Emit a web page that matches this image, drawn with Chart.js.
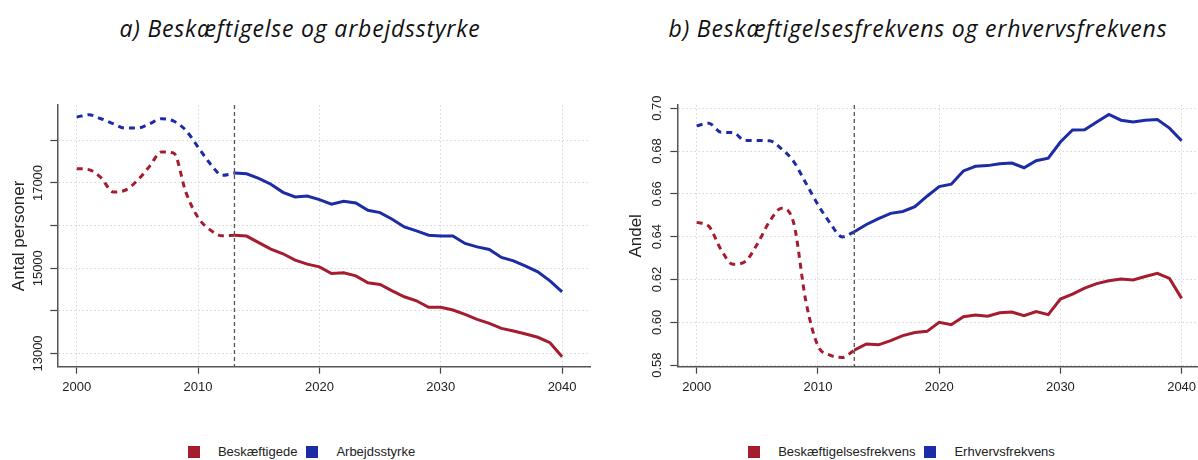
<!DOCTYPE html>
<html>
<head>
<meta charset="utf-8">
<script src="https://cdn.jsdelivr.net/npm/chart.js@4.4.1/dist/chart.umd.min.js"></script>
<style>
  html, body { margin: 0; padding: 0; background: #fff; }
  body { width: 1198px; height: 460px; overflow: hidden; position: relative; }
  .title { position: absolute; top: 15px; width: 600px; text-align: center; line-height: 26px; letter-spacing: 0.8px;
           font-family: "Open Sans", sans-serif; font-style: italic; font-size: 23px; color: #111; }
  canvas { position: absolute; top: 60px; }
  .legend { position: absolute; top: 445px; display: flex; justify-content: center; align-items: center;
            font-family: "Liberation Sans", Arial, sans-serif; font-size: 13px; color: #222; line-height: 14px; }
  .legend .box { width: 12px; height: 12px; margin-right: 18px; }
  .legend .txt { margin-right: 9px; }
</style>
</head>
<body>
<div class="title" style="left:0">a) Beskæftigelse og arbejdsstyrke</div>
<div class="title" style="left:618px">b) Beskæftigelsesfrekvens og erhvervsfrekvens</div>
<canvas id="chartA" width="600" height="360" style="left:0"></canvas>
<canvas id="chartB" width="620" height="360" style="left:600px"></canvas>
<div class="legend" id="legendA" style="left:0; width:612px"></div>
<div class="legend" id="legendB" style="left:600px; width:612px"></div>
<script>
const histYears = [2000, 2001, 2002, 2003, 2004, 2005, 2006, 2007, 2008, 2009, 2010, 2011, 2012, 2013];
const projYears = [2013, 2014, 2015, 2016, 2017, 2018, 2019, 2020, 2021, 2022, 2023, 2024, 2025, 2026,
                   2027, 2028, 2029, 2030, 2031, 2032, 2033, 2034, 2035, 2036, 2037, 2038, 2039, 2040];
const splitYear = 2013;

// a) antal personer
const employedHist = [17337, 17313, 17126, 16790, 16830, 17060, 17390, 17730, 17700, 16780, 16190, 15900, 15760, 15775];
const employedProj = [15775, 15755, 15600, 15450, 15340, 15190, 15096, 15033, 14878, 14892, 14822, 14658, 14620, 14471,
                      14330, 14237, 14082, 14082, 14019, 13918, 13801, 13707, 13590, 13527, 13457, 13380, 13253, 12925];
const laborHist = [18546, 18602, 18508, 18391, 18288, 18288, 18391, 18508, 18452, 18234, 17843, 17454, 17180, 17234];
const laborProj = [17234, 17215, 17110, 16970, 16782, 16672, 16696, 16611, 16501, 16571, 16532, 16361, 16306, 16150,
                   15970, 15876, 15775, 15759, 15759, 15581, 15501, 15440, 15253, 15173, 15049, 14916, 14705, 14447];

// b) andel
const empRateHist = [0.6467, 0.6449, 0.6340, 0.6271, 0.6284, 0.6366, 0.6470, 0.6533, 0.6464, 0.6100, 0.5891, 0.5847, 0.5836, 0.5870];
const empRateProj = [0.5870, 0.5899, 0.5895, 0.5915, 0.5938, 0.5953, 0.5958, 0.6000, 0.5989, 0.6026, 0.6034, 0.6029, 0.6045, 0.6048,
                     0.6031, 0.6050, 0.6036, 0.6109, 0.6132, 0.6160, 0.6181, 0.6194, 0.6202, 0.6198, 0.6214, 0.6229, 0.6205, 0.6112];
const partRateHist = [0.6918, 0.6930, 0.6888, 0.6886, 0.6849, 0.6849, 0.6848, 0.6810, 0.6751, 0.6651, 0.6550, 0.6464, 0.6399, 0.6423];
const partRateProj = [0.6423, 0.6457, 0.6484, 0.6509, 0.6518, 0.6540, 0.6589, 0.6634, 0.6645, 0.6707, 0.6729, 0.6732, 0.6741, 0.6744,
                      0.6722, 0.6755, 0.6767, 0.6842, 0.6898, 0.6899, 0.6936, 0.6971, 0.6944, 0.6936, 0.6944, 0.6947, 0.6907, 0.6848];

const labelsA = ["Beskæftigede", "Arbejdsstyrke"];
const labelsB = ["Beskæftigelsesfrekvens", "Erhvervsfrekvens"];
const xTicks = [2000, 2010, 2020, 2030, 2040];
const yTicksA = [13000, 14000, 15000, 16000, 17000, 18000];
const tickLabelsA = [13000, 15000, 17000];
const yTicksB = [0.58, 0.60, 0.62, 0.64, 0.66, 0.68, 0.70];

const RED = "#a51c2e";
const BLUE = "#1b2ca5";
const FONT = '"Liberation Sans", Arial, sans-serif';

function points(years, values) {
  return years.map((yr, i) => ({ x: yr, y: values[i] }));
}

function series(label, years, values, color, dashed) {
  return {
    label: label,
    data: points(years, values),
    borderColor: color,
    backgroundColor: color,
    borderWidth: 3,
    borderDash: dashed ? [6, 5] : [],
    pointRadius: 0,
    cubicInterpolationMode: dashed ? "monotone" : "default",
    tension: 0,
  };
}

// rotated y labels, axis title, forecast line
const overlay = {
  id: "overlay",
  afterDatasetsDraw(chart, args, opts) {
    const { ctx, chartArea, scales } = chart;
    const x = scales.x.getPixelForValue(opts.splitYear);
    ctx.save();
    ctx.strokeStyle = "#555";
    ctx.lineWidth = 1.3;
    ctx.setLineDash([4, 3]);
    ctx.beginPath();
    ctx.moveTo(x, chartArea.top);
    ctx.lineTo(x, chartArea.bottom);
    ctx.stroke();
    ctx.restore();
  },
  afterDraw(chart, args, opts) {
    const { ctx, chartArea, scales } = chart;
    ctx.save();
    ctx.fillStyle = "#222";
    ctx.textAlign = "center";
    ctx.textBaseline = "middle";
    ctx.font = "13px " + FONT;
    opts.tickValues.forEach((v) => {
      const y = scales.y.getPixelForValue(v);
      ctx.save();
      ctx.translate(opts.labelX, y);
      ctx.rotate(-Math.PI / 2);
      ctx.fillText(opts.format(v), 0, 0);
      ctx.restore();
    });
    ctx.font = "17px " + FONT;
    ctx.translate(opts.titleX, (chartArea.top + chartArea.bottom) / 2);
    ctx.rotate(-Math.PI / 2);
    ctx.fillText(opts.title, 0, 0);
    ctx.restore();
  },
};

const gridStyle = { color: "#d6d6d6", lineWidth: 1, tickColor: "#444", tickLength: 7, tickWidth: 1.2 };
const borderStyle = { color: "#555", width: 1.5, dash: [1.5, 2.5] };

function createChart(id, datasets, yRange, yTicks, axisWidth, padRight, overlayOpts) {
  const canvas = document.getElementById(id);
  const config = {
    type: "line",
    data: { datasets: datasets },
    options: {
      responsive: false,
      animation: false,
      devicePixelRatio: 1,
      layout: { padding: { top: 45, right: padRight, bottom: 0, left: 0 } },
      plugins: {
        legend: { display: false },
        tooltip: { enabled: false },
        overlay: overlayOpts,
      },
      scales: {
        x: {
          type: "linear",
          min: 1998.4,
          max: 2042.3,
          grid: gridStyle,
          border: borderStyle,
          afterBuildTicks: (scale) => { scale.ticks = xTicks.map((v) => ({ value: v })); },
          ticks: {
            maxRotation: 0,
            autoSkip: false,
            padding: 6,
            color: "#222",
            font: { family: FONT, size: 13 },
            callback: (v) => String(v),
          },
          afterFit: (scale) => { scale.height = 53.3; },
        },
        y: {
          min: yRange[0],
          max: yRange[1],
          grid: gridStyle,
          border: borderStyle,
          afterBuildTicks: (scale) => { scale.ticks = yTicks.map((v) => ({ value: v })); },
          ticks: { display: false },
          afterFit: (scale) => { scale.width = axisWidth; },
        },
      },
    },
    plugins: [overlay],
  };
  return new Chart(canvas, config);
}

function buildLegend(id, labels, colors) {
  const el = document.getElementById(id);
  labels.forEach((label, i) => {
    const box = document.createElement("span");
    box.className = "box";
    box.style.background = colors[i];
    const txt = document.createElement("span");
    txt.className = "txt";
    txt.textContent = label;
    el.appendChild(box);
    el.appendChild(txt);
  });
}

const chartA = createChart("chartA", [
  series(labelsA[0], histYears, employedHist, RED, true),
  series(labelsA[0], projYears, employedProj, RED, false),
  series(labelsA[1], histYears, laborHist, BLUE, true),
  series(labelsA[1], projYears, laborProj, BLUE, false),
], [12690, 18830], yTicksA, 57.3, 10, {
  splitYear: splitYear,
  tickValues: tickLabelsA,
  format: (v) => String(v),
  labelX: 38,
  title: "Antal personer",
  titleX: 19,
});

const chartB = createChart("chartB", [
  series(labelsB[0], histYears, empRateHist, RED, true),
  series(labelsB[0], projYears, empRateProj, RED, false),
  series(labelsB[1], histYears, partRateHist, BLUE, true),
  series(labelsB[1], projYears, partRateProj, BLUE, false),
], [0.5793, 0.7015], yTicksB, 77.3, 10.5, {
  splitYear: splitYear,
  tickValues: yTicksB,
  format: (v) => v.toFixed(2),
  labelX: 57,
  title: "Andel",
  titleX: 36.5,
});

buildLegend("legendA", labelsA, [RED, BLUE]);
buildLegend("legendB", labelsB, [RED, BLUE]);
</script>
</body>
</html>
